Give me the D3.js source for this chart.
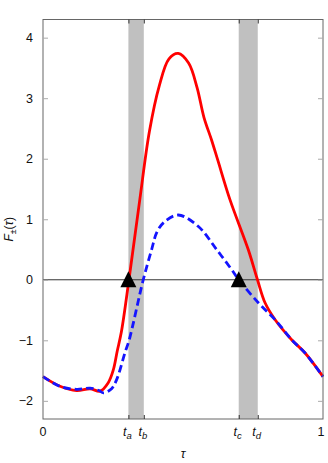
<!DOCTYPE html>
<html>
<head>
<meta charset="utf-8">
<script src="https://cdn.jsdelivr.net/npm/d3@7"></script>
<style>
  html, body { margin: 0; padding: 0; background: #fff; }
  svg { display: block; font-family: "Liberation Sans", Arial, sans-serif; }
</style>
</head>
<body>
<div id="chart"></div>
<script>
// F+ (solid red)
const redTau = [0, 0.061, 0.12, 0.168, 0.204, 0.233, 0.251, 0.265, 0.28, 0.307, 0.345, 0.38, 0.415, 0.45, 0.483, 0.52, 0.55, 0.575, 0.602, 0.624, 0.668, 0.733, 0.766, 0.793, 0.829, 0.888, 0.936, 1];
const redF = [-1.60, -1.76, -1.83, -1.80, -1.84, -1.70, -1.49, -1.18, -0.86, 0.0, 1.30, 2.45, 3.20, 3.65, 3.74, 3.58, 3.18, 2.68, 2.31, 1.98, 1.32, 0.50, 0.0, -0.38, -0.66, -0.99, -1.21, -1.60];

// F- (dashed blue)
const blueTau = [0, 0.061, 0.12, 0.168, 0.2, 0.216, 0.245, 0.263, 0.293, 0.308, 0.358, 0.388, 0.406, 0.43, 0.483, 0.555, 0.62, 0.678, 0.699, 0.769, 0.829, 0.888, 0.936, 1];
const blueF = [-1.60, -1.76, -1.81, -1.79, -1.83, -1.87, -1.80, -1.65, -1.20, -0.99, 0.0, 0.50, 0.78, 0.94, 1.07, 0.88, 0.50, 0.14, 0.0, -0.38, -0.66, -0.99, -1.21, -1.60];

// special times and shaded windows
const markTau = [0.305, 0.36, 0.699, 0.767];
const markSub = ["a", "b", "c", "d"];
const bands = [[0.305, 0.36], [0.699, 0.767]];
const triTau = [0.305, 0.699];

const yTicks = [-2, -1, 0, 1, 2, 3, 4];

const w = 328, h = 463;
const margin = { left: 43, right: 5, top: 19.5, bottom: 44 };

const xScale = d3.scaleLinear().domain([0, 1]).range([margin.left, w - margin.right]);
const yScale = d3.scaleLinear().domain([-2.3, 4.3]).range([h - margin.bottom, margin.top]);

const svg = d3.select("#chart").append("svg").attr("width", w).attr("height", h);

// gray bands
svg.selectAll("rect.band")
  .data(bands)
  .enter()
  .append("rect")
  .attr("class", "band")
  .attr("x", (d) => xScale(d[0]))
  .attr("width", (d) => xScale(d[1]) - xScale(d[0]))
  .attr("y", yScale(4.3))
  .attr("height", yScale(-2.3) - yScale(4.3))
  .attr("fill", "#c0c0c0");

// zero line
svg.append("line")
  .attr("x1", xScale(0)).attr("x2", xScale(1))
  .attr("y1", yScale(0)).attr("y2", yScale(0))
  .attr("stroke", "#333").attr("stroke-width", 1);

const line = d3.line()
  .x((d) => xScale(d[0]))
  .y((d) => yScale(d[1]))
  .curve(d3.curveCatmullRom.alpha(0.5));

svg.append("path")
  .datum(redTau.map((t, i) => [t, redF[i]]))
  .attr("d", line)
  .attr("fill", "none")
  .attr("stroke", "#ff0000")
  .attr("stroke-width", 2.8);

svg.append("path")
  .datum(blueTau.map((t, i) => [t, blueF[i]]))
  .attr("d", line)
  .attr("fill", "none")
  .attr("stroke", "#1414ff")
  .attr("stroke-width", 2.8)
  .attr("stroke-dasharray", "7.5,4");

// triangles
svg.selectAll("path.tri")
  .data(triTau)
  .enter()
  .append("path")
  .attr("class", "tri")
  .attr("transform", (d) => `translate(${xScale(d)},${yScale(0)})`)
  .attr("d", "M0,-8.5L8,7.5L-8,7.5Z")
  .attr("fill", "#000");

// frame
svg.append("rect")
  .attr("x", xScale(0)).attr("y", yScale(4.3))
  .attr("width", xScale(1) - xScale(0))
  .attr("height", yScale(-2.3) - yScale(4.3))
  .attr("fill", "none")
  .attr("stroke", "#666")
  .attr("stroke-width", 1);

// left / right axes with inward ticks
const yLeft = d3.axisLeft(yScale).tickValues(yTicks).tickSize(-5).tickPadding(10)
  .tickFormat((d) => d < 0 ? "\u2212" + Math.abs(d) : d);
const gl = svg.append("g").attr("transform", `translate(${xScale(0)},0)`).call(yLeft);
gl.select(".domain").remove();
gl.selectAll(".tick line").attr("stroke", "#aaa");
gl.selectAll(".tick text").attr("font-size", 12.5).attr("fill", "#111");

const yRight = d3.axisRight(yScale).tickValues(yTicks).tickSize(-5).tickFormat("");
const gr = svg.append("g").attr("transform", `translate(${xScale(1)},0)`).call(yRight);
gr.select(".domain").remove();
gr.selectAll(".tick line").attr("stroke", "#aaa");

// top / bottom ticks at the special times
const xTop = d3.axisTop(xScale).tickValues(markTau).tickSize(-4).tickFormat("");
const gt = svg.append("g").attr("transform", `translate(0,${yScale(4.3)})`).call(xTop);
gt.select(".domain").remove();
gt.selectAll(".tick line").attr("stroke", "#333");

const xBottom = d3.axisBottom(xScale).tickValues(markTau).tickSize(-4).tickFormat("");
const gb = svg.append("g").attr("transform", `translate(0,${yScale(-2.3)})`).call(xBottom);
gb.select(".domain").remove();
gb.selectAll(".tick line").attr("stroke", "#333");

// x tick labels
const labelY = yScale(-2.3) + 17;
svg.append("text").attr("x", xScale(0)).attr("y", labelY)
  .attr("text-anchor", "middle").attr("font-size", 12.5).attr("fill", "#111").text("0");
svg.append("text").attr("x", xScale(1) - 2).attr("y", labelY)
  .attr("text-anchor", "middle").attr("font-size", 12.5).attr("fill", "#111").text("1");

markTau.forEach((t, i) => {
  const lab = svg.append("text")
    .attr("x", xScale(t) - 1)
    .attr("y", labelY)
    .attr("text-anchor", "middle")
    .attr("font-size", 12.5)
    .attr("fill", "#111");
  lab.append("tspan").attr("font-style", "italic").text("t");
  lab.append("tspan").attr("font-style", "italic").attr("font-size", 9.5).attr("dy", 3).text(markSub[i]);
});

// axis titles
svg.append("text")
  .attr("x", (xScale(0) + xScale(1)) / 2)
  .attr("y", h - 5)
  .attr("text-anchor", "middle")
  .attr("font-size", 12.5)
  .attr("font-style", "italic")
  .attr("fill", "#111")
  .text("\u03c4");

const yt = svg.append("text")
  .attr("transform", `translate(13,${(yScale(4.3) + yScale(-2.3)) / 2 + 10}) rotate(-90)`)
  .attr("text-anchor", "middle")
  .attr("font-size", 12)
  .attr("fill", "#111");
yt.append("tspan").attr("font-style", "italic").text("F");
yt.append("tspan").attr("font-size", 8.5).attr("dy", 3).text("\u00b1");
yt.append("tspan").attr("dy", -3).text("(");
yt.append("tspan").attr("font-style", "italic").text("\u03c4");
yt.append("tspan").text(")");
</script>
</body>
</html>
